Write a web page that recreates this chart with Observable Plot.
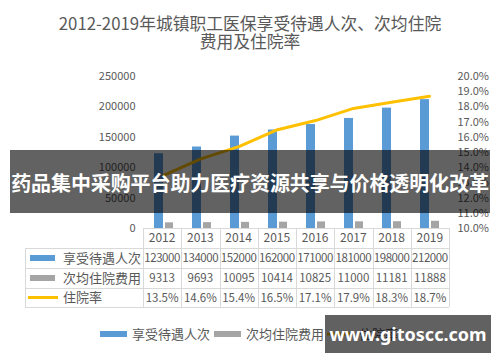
<!DOCTYPE html>
<html><head><meta charset="utf-8">
<script src="https://cdn.jsdelivr.net/npm/d3@7"></script>
<script src="https://cdn.jsdelivr.net/npm/@observablehq/plot@0.6"></script>
<style>
body{margin:0;background:#fff;}
#wrap{position:relative;width:500px;height:362px;overflow:hidden;font-family:"Noto Sans CJK SC","Noto Sans",sans-serif;color:#595959;background:#fff;}
.abs{position:absolute;}
#title{left:0;top:14px;width:500px;text-align:center;font-size:16.8px;line-height:18px;color:#595959;}
#banner{left:10px;top:150px;width:480px;height:63px;background:rgba(0,0,0,0.615);color:#fff;font-weight:bold;font-size:20px;line-height:66px;text-align:center;white-space:nowrap;letter-spacing:-0.1px;}
#wm{left:325px;top:315px;width:166px;height:38px;background:rgba(0,0,0,0.62);color:#fff;font-family:"Noto Sans","Open Sans",sans-serif;font-weight:bold;font-size:18px;line-height:38px;text-align:center;}
</style></head><body><div id="wrap"></div>
<script>
const years = ["2012","2013","2014","2015","2016","2017","2018","2019"];
const visits = [123000,134000,152000,162000,171000,181000,198000,212000];
const costs = [9313,9693,10095,10414,10825,11000,11181,11888];
const rates = [13.5,14.6,15.4,16.5,17.1,17.9,18.3,18.7];
const leftTicks = [0,50000,100000,150000,200000,250000];
const rightTicks = [10,11,12,13,14,15,16,17,18,19,20];
const seriesNames = ["享受待遇人次","次均住院费用","住院率"];
const titleLines = ["2012-2019年城镇职工医保享受待遇人次、次均住院","费用及住院率"];
const bannerText = "药品集中采购平台助力医疗资源共享与价格透明化改革";
const watermark = "www.gitoscc.com";

const BLUE="#5b9bd5", GRAY="#a5a5a5", GOLD="#ffc000";
const FONT='"Noto Sans CJK SC","Noto Sans",sans-serif';
const data = years.map((y,i)=>({year:y, visits:visits[i], cost:costs[i], rate:rates[i]}));
const toLeft = p => (p - 10) * 25000;

const wrap = document.getElementById("wrap");

const chart = Plot.plot({
  width:500, height:240, marginTop:76, marginBottom:12, marginLeft:143, marginRight:51,
  style:{fontFamily:FONT, fontSize:"11px", color:"#595959", background:"transparent", overflow:"visible"},
  x:{domain:years, padding:0, axis:null},
  y:{domain:[0,250000], axis:null},
  marks:[
    Plot.barY(data,{x:"year", y:"visits", fill:BLUE, insetLeft:10, insetRight:19}),
    Plot.barY(data,{x:"year", y:"cost", fill:GRAY, insetLeft:21, insetRight:9}),
    Plot.line(data,{x:"year", y:d=>toLeft(d.rate), stroke:GOLD, strokeWidth:3, curve:"linear"}),
    Plot.axisY(leftTicks,{anchor:"left", tickSize:0, tickPadding:8, tickFormat:d3.format("d"), label:null, fill:"#595959"}),
    Plot.axisY(rightTicks.map(toLeft),{anchor:"right", tickSize:0, tickPadding:8, tickFormat:v=>(v/25000+10).toFixed(1)+"%", label:null, fill:"#595959"})
  ]
});
chart.style.position="absolute"; chart.style.left="0px"; chart.style.top="0px";
wrap.appendChild(chart);

// title
const t = document.createElement("div"); t.id="title"; t.className="abs";
t.innerHTML = titleLines.map(s=>`<div>${s}</div>`).join("");
wrap.appendChild(t);

// data table aligned with the chart's x scale
const xs = chart.scale("x");
const band = d3.scaleBand().domain(xs.domain).range(xs.range).padding(0);
const rowY = [228,248,268,288,307];
const tableLeft = 25;
const svg = d3.select(wrap).append("svg").attr("width",500).attr("height",362)
  .style("position","absolute").style("left","0px").style("top","0px")
  .style("font-family",FONT);
const colX = years.map(y=>band(y)).concat([band.range()[1]]);
const line = (x1,y1,x2,y2)=>svg.append("line").attr("x1",x1).attr("y1",y1).attr("x2",x2).attr("y2",y2).attr("stroke","#d9d9d9").attr("stroke-width",1);
line(colX[0],rowY[0]+0.5,colX[8],rowY[0]+0.5);
for(let r=1;r<rowY.length;r++) line(tableLeft,rowY[r]+0.5,colX[8],rowY[r]+0.5);
colX.forEach(x=>line(Math.round(x)+0.5,rowY[0],Math.round(x)+0.5,rowY[4]));
line(tableLeft+0.5,rowY[1],tableLeft+0.5,rowY[4]);
years.forEach((y,i)=>svg.append("text").attr("x",band(y)+band.bandwidth()/2).attr("y",(rowY[0]+rowY[1])/2).attr("dy","0.36em")
  .attr("text-anchor","middle").attr("font-size",12).attr("fill","#595959").text(y));
const rowsVals = [visits.map(v=>String(v)), costs.map(v=>String(v)), rates.map(v=>v.toFixed(1)+"%")];
rowsVals.forEach((vals,r)=>{
  vals.forEach((v,i)=>svg.append("text").attr("x",band(years[i])+band.bandwidth()/2).attr("y",(rowY[r+1]+rowY[r+2])/2).attr("dy","0.36em")
    .attr("text-anchor","middle").attr("font-size",11.5).attr("fill","#595959").attr("letter-spacing",r===0?"-0.4":"0").text(v));
  const cy=(rowY[r+1]+rowY[r+2])/2;
  if(r<2) svg.append("rect").attr("x",30).attr("y",cy-3).attr("width",25).attr("height",6).attr("fill",r===0?BLUE:GRAY);
  else svg.append("rect").attr("x",28).attr("y",cy-1.5).attr("width",30).attr("height",3).attr("fill",GOLD);
  svg.append("text").attr("x",63).attr("y",cy).attr("dy","0.36em").attr("font-size",13).attr("fill","#595959").text(seriesNames[r]);
});

// bottom legend
const lg = [[100,132,BLUE,6],[214,246,GRAY,6],[327,359,GOLD,3]];
lg.forEach(([rx,tx,c,h],i)=>{
  svg.append("rect").attr("x",rx).attr("y",334-h/2).attr("width",27).attr("height",h).attr("fill",c);
  svg.append("text").attr("x",tx).attr("y",334).attr("dy","0.36em").attr("font-size",13).attr("fill","#595959").text(seriesNames[i]);
});

// overlays
const b = document.createElement("div"); b.id="banner"; b.className="abs"; b.textContent=bannerText; wrap.appendChild(b);
const w = document.createElement("div"); w.id="wm"; w.className="abs"; w.textContent=watermark; wrap.appendChild(w);
</script>
</body></html>
